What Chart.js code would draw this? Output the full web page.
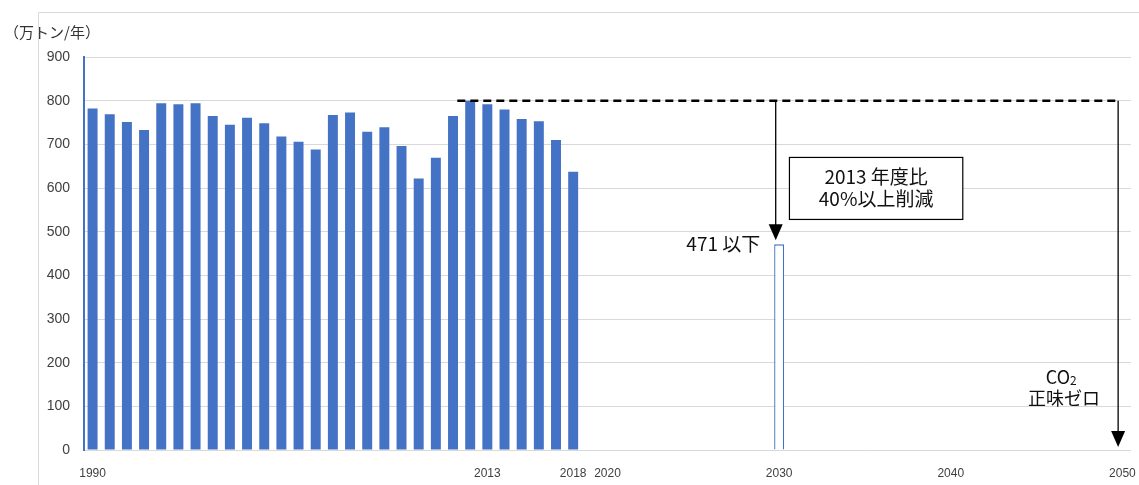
<!DOCTYPE html>
<html>
<head>
<meta charset="utf-8">
<script src="https://cdn.jsdelivr.net/npm/chart.js@4"></script>
<style>
  html, body { margin: 0; padding: 0; background: #fff; }
  #wrap { position: relative; width: 1139px; height: 485px; }
</style>
</head>
<body>
<div id="wrap"><canvas id="emissionChart"></canvas></div>
<script>
// categories: every year on the axis
const years = [];
for (let y = 1990; y <= 2050; y++) years.push(String(y));

// 実績 1990-2018 (万トン/年)
const actualYears = ["1990", "1991", "1992", "1993", "1994", "1995", "1996", "1997", "1998", "1999",
  "2000", "2001", "2002", "2003", "2004", "2005", "2006", "2007", "2008", "2009",
  "2010", "2011", "2012", "2013", "2014", "2015", "2016", "2017", "2018"];
const actualValues = [782, 769, 751, 733, 794, 792, 794, 765, 745, 761,
  748, 718, 706, 688, 767, 773, 729, 739, 696, 622,
  669, 765, 800, 792, 780, 758, 753, 710, 637];

// 目標
const targetYear = "2030";
const targetValue = 471;
const baseLevel = 800;
const dashStartYear = "2012";
const zeroYear = "2050";

const shownTicks = ["1990", "2013", "2018", "2020", "2030", "2040", "2050"];
const yTicks = [0, 100, 200, 300, 400, 500, 600, 700, 800, 900];

const BLUE = "#4472c4";
const CJK = '"Noto Sans CJK JP", "Noto Sans", sans-serif';

const actualSeries = years.map((y) => {
  const i = actualYears.indexOf(y);
  return i >= 0 ? actualValues[i] : null;
});
const targetSeries = years.map((y) => (y === targetYear ? targetValue : null));

function arrowDown(ctx, x, yTop, yTip) {
  ctx.beginPath();
  ctx.moveTo(x, yTop);
  ctx.lineTo(x, yTip - 14);
  ctx.stroke();
  ctx.beginPath();
  ctx.moveTo(x - 7, yTip - 16);
  ctx.lineTo(x + 7, yTip - 16);
  ctx.lineTo(x, yTip);
  ctx.closePath();
  ctx.fill();
}

const annotations = {
  id: "annotations",
  beforeDraw(chart) {
    const ctx = chart.ctx;
    ctx.save();
    ctx.strokeStyle = "#d9d9d9";
    ctx.lineWidth = 1;
    ctx.beginPath();
    ctx.moveTo(38.5, chart.height);
    ctx.lineTo(38.5, 12.5);
    ctx.lineTo(chart.width, 12.5);
    ctx.stroke();
    ctx.fillStyle = "#333";
    ctx.font = "15px " + CJK;
    ctx.textBaseline = "middle";
    ctx.textAlign = "left";
    ctx.fillText("（万トン/年）", 4, 32);
    ctx.restore();
  },
  afterDatasetsDraw(chart) {
    const ctx = chart.ctx;
    const x = chart.scales.x;
    const y = chart.scales.y;
    const step = x.getPixelForValue(1) - x.getPixelForValue(0);
    const px = (yr) => x.getPixelForValue(years.indexOf(yr));
    const yBase = y.getPixelForValue(baseLevel);
    ctx.save();
    // 2013 level dashed line
    ctx.strokeStyle = "#000";
    ctx.lineWidth = 2.5;
    ctx.setLineDash([8, 5]);
    ctx.beginPath();
    ctx.moveTo(px(dashStartYear) - step * 0.75, yBase);
    ctx.lineTo(px(zeroYear) - step * 0.2, yBase);
    ctx.stroke();
    ctx.setLineDash([]);
    // arrows
    ctx.lineWidth = 1.3;
    ctx.fillStyle = "#000";
    arrowDown(ctx, px(targetYear) - step * 0.2, yBase, y.getPixelForValue(targetValue) - 4);
    arrowDown(ctx, px(zeroYear) - step * 0.25, yBase, y.getPixelForValue(0) - 3);
    // box
    const bx1 = px(targetYear) + step * 0.6;
    const bx2 = px(targetYear) + step * 10.7;
    const by1 = y.getPixelForValue(670);
    const by2 = y.getPixelForValue(528);
    ctx.fillStyle = "#fff";
    ctx.fillRect(bx1, by1, bx2 - bx1, by2 - by1);
    ctx.lineWidth = 1.2;
    ctx.strokeStyle = "#000";
    ctx.strokeRect(bx1, by1, bx2 - bx1, by2 - by1);
    ctx.fillStyle = "#111";
    ctx.font = "19px " + CJK;
    ctx.textAlign = "center";
    ctx.textBaseline = "middle";
    const bc = (bx1 + bx2) / 2;
    ctx.fillText("2013 年度比", bc, (by1 * 0.68 + by2 * 0.32));
    ctx.fillText("40%以上削減", bc, (by1 * 0.33 + by2 * 0.67));
    // 471 以下
    ctx.textAlign = "right";
    ctx.fillText(targetValue + " 以下", px(targetYear) - step * 1.1, y.getPixelForValue(targetValue) - 1);
    // CO2 正味ゼロ
    const cx = px(zeroYear) - step * 3.4;
    ctx.textAlign = "center";
    ctx.font = "18px " + CJK;
    ctx.fillText("正味ゼロ", cx, y.getPixelForValue(118));
    ctx.textAlign = "right";
    ctx.fillText("CO", cx + 6, y.getPixelForValue(166));
    ctx.textAlign = "left";
    ctx.font = "12px " + CJK;
    ctx.fillText("2", cx + 6, y.getPixelForValue(160));
    ctx.restore();
  },
};

new Chart(document.getElementById("emissionChart"), {
  type: "bar",
  data: {
    labels: years,
    datasets: [
      {
        label: "実績",
        data: actualSeries,
        backgroundColor: BLUE,
        borderWidth: 0,
        grouped: false,
        barPercentage: 0.58,
        categoryPercentage: 1,
      },
      {
        label: "目標",
        data: targetSeries,
        backgroundColor: "#fff",
        borderColor: BLUE,
        borderWidth: 1.3,
        grouped: false,
        barPercentage: 0.58,
        categoryPercentage: 1,
      },
    ],
  },
  options: {
    responsive: true,
    maintainAspectRatio: false,
    animation: false,
    layout: { padding: { top: 57, right: 8, left: 0, bottom: 0 } },
    plugins: { legend: { display: false }, tooltip: { enabled: false } },
    scales: {
      x: {
        grid: { display: false },
        border: { display: false },
        afterFit: (scale) => {
          scale.height = 35;
          scale.paddingLeft = 0;
          scale.paddingRight = 0;
        },
        ticks: {
          autoSkip: false,
          maxRotation: 0,
          padding: 8,
          color: "#404040",
          font: { family: '"Liberation Sans Narrow", "Liberation Sans", sans-serif', size: 12 },
          callback: function (value) {
            const lab = this.getLabelForValue(value);
            return shownTicks.includes(lab) ? lab : "";
          },
        },
      },
      y: {
        min: 0,
        max: 900,
        afterFit: (scale) => { scale.width = 84; },
        afterBuildTicks: (scale) => { scale.ticks = yTicks.map((v) => ({ value: v })); },
        border: { display: true, color: BLUE, width: 2 },
        grid: { color: "#d9d9d9", drawTicks: false },
        ticks: {
          padding: 14,
          color: "#404040",
          font: { family: '"Liberation Sans", Arial, sans-serif', size: 14 },
        },
      },
    },
  },
  plugins: [annotations],
});
</script>
</body>
</html>
